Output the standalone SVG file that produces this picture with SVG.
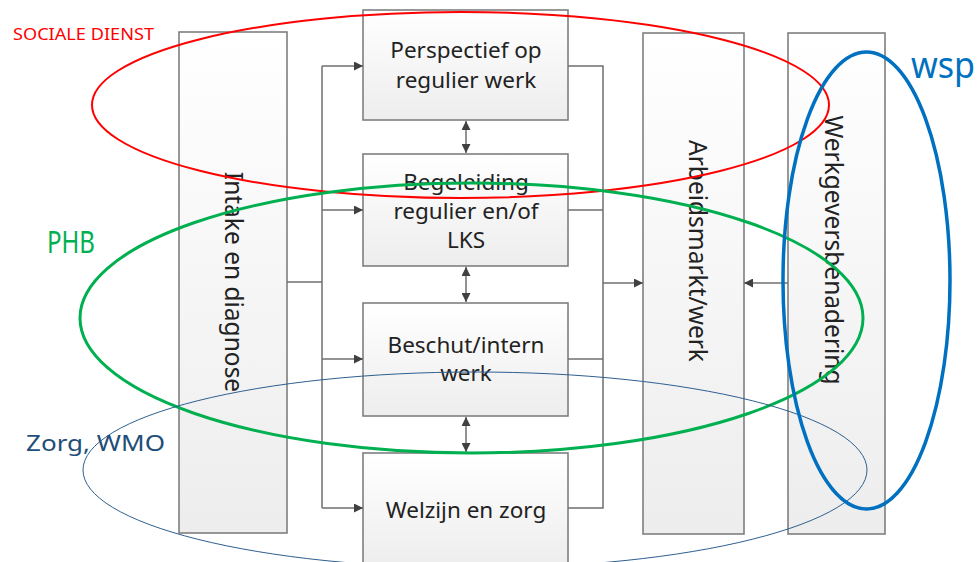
<svg xmlns="http://www.w3.org/2000/svg" width="978" height="562" viewBox="0 0 978 562">
<defs>
<linearGradient id="g" x1="0" y1="0" x2="0" y2="1">
<stop offset="0" stop-color="#ffffff"/>
<stop offset="1" stop-color="#ededed"/>
</linearGradient>
<marker id="ah" viewBox="0 0 10 10" refX="10" refY="5" markerWidth="10" markerHeight="9" markerUnits="userSpaceOnUse" orient="auto-start-reverse">
<path d="M0,0 L10,5 L0,10 z" fill="#404040"/>
</marker>
<style>
.box{fill:url(#g);stroke:#7f7f7f;stroke-width:1.6}
.t{font-family:"Noto Sans","Open Sans",sans-serif;font-size:22.5px;fill:#222222;text-anchor:middle}
.v{font-size:24.5px}
.c{fill:none;stroke:#6f6f6f;stroke-width:1.5}
.e{fill:none}
</style>
</defs>
<rect width="978" height="562" fill="#ffffff"/>

<g id="intake">
<rect class="box" x="179" y="32" width="108" height="501"/>
<text class="t v" transform="translate(233,282) rotate(90)" y="8">Intake en diagnose</text>
</g>
<g id="perspectief">
<rect class="box" x="363" y="10" width="205" height="110"/>
<text class="t" x="466" y="58">Perspectief op</text>
<text class="t" x="466" y="88">regulier werk</text>
</g>
<g id="begeleiding">
<rect class="box" x="363" y="154" width="205" height="112"/>
<text class="t" x="466" y="190">Begeleiding</text>
<text class="t" x="466" y="219">regulier en/of</text>
<text class="t" x="466" y="248">LKS</text>
</g>
<g id="beschut">
<rect class="box" x="363" y="303" width="205" height="113"/>
<text class="t" x="466" y="353">Beschut/intern</text>
<text class="t" x="466" y="381">werk</text>
</g>
<g id="welzijn">
<rect class="box" x="363" y="453" width="205" height="115"/>
<text class="t" x="466" y="518">Welzijn en zorg</text>
</g>
<g id="arbeidsmarkt">
<rect class="box" x="643" y="33" width="101" height="501"/>
<text class="t v" transform="translate(697,251) rotate(90)" y="8">Arbeidsmarkt/werk</text>
</g>
<g id="werkgever">
<rect class="box" x="788" y="33" width="97" height="501"/>
<text class="t v" transform="translate(833,250) rotate(90)" y="8">Werkgeversbenadering</text>
</g>

<g id="connectors">
<path class="c" d="M287,282 H322"/>
<path class="c" d="M322,66 V508"/>
<path class="c" d="M322,66 H363" marker-end="url(#ah)"/>
<path class="c" d="M322,210 H363" marker-end="url(#ah)"/>
<path class="c" d="M322,359 H363" marker-end="url(#ah)"/>
<path class="c" d="M322,508 H363" marker-end="url(#ah)"/>
<path class="c" d="M568,66 H603 V508 H568"/>
<path class="c" d="M568,210 H603"/>
<path class="c" d="M568,359 H603"/>
<path class="c" d="M603,283 H643" marker-end="url(#ah)"/>
<path class="c" d="M788,283 H744" marker-end="url(#ah)"/>
<path class="c" d="M466,121 V153" marker-start="url(#ah)" marker-end="url(#ah)"/>
<path class="c" d="M466,267 V302" marker-start="url(#ah)" marker-end="url(#ah)"/>
<path class="c" d="M466,417 V452" marker-start="url(#ah)" marker-end="url(#ah)"/>
</g>

<g id="groups">
<ellipse class="e" cx="460.5" cy="105" rx="368.5" ry="93" stroke="#ff0000" stroke-width="2"/>
<ellipse class="e" cx="471.5" cy="318" rx="391.5" ry="135" stroke="#00b050" stroke-width="3"/>
<ellipse class="e" cx="475" cy="470" rx="392" ry="98" stroke="#2e5f8f" stroke-width="1"/>
<ellipse class="e" cx="866.5" cy="280.5" rx="83.5" ry="228.5" stroke="#0070c0" stroke-width="3.5"/>
<text x="13" y="40" font-family="Noto Sans,Open Sans,sans-serif" font-size="16" fill="#ff0000" textLength="141" lengthAdjust="spacingAndGlyphs">SOCIALE DIENST</text>
<text x="47" y="253" font-family="Noto Sans,Open Sans,sans-serif" font-size="30" fill="#00b050" textLength="48" lengthAdjust="spacingAndGlyphs">PHB</text>
<text x="26" y="451" font-family="Noto Sans,Open Sans,sans-serif" font-size="21" fill="#1f4e79" textLength="139" lengthAdjust="spacingAndGlyphs">Zorg, WMO</text>
<text x="911" y="78" font-family="Noto Sans,Open Sans,sans-serif" font-size="36" fill="#0070c0" textLength="64" lengthAdjust="spacingAndGlyphs">wsp</text>
</g>
</svg>
